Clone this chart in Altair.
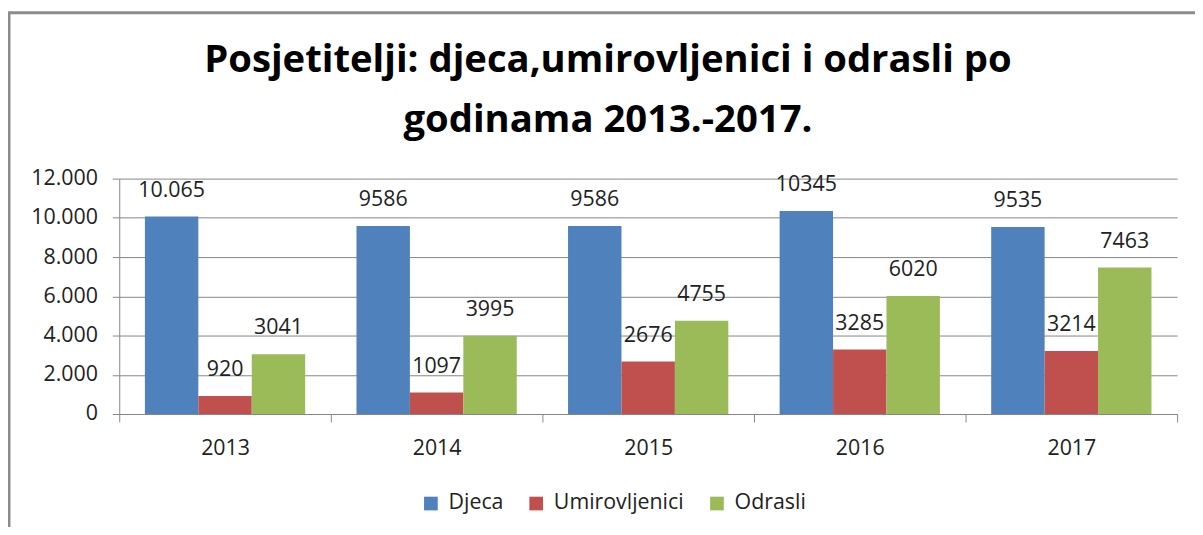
import altair as alt
import pandas as pd

years = ["2013", "2014", "2015", "2016", "2017"]
series = ["Djeca", "Umirovljenici", "Odrasli"]
djeca = [10065, 9586, 9586, 10345, 9535]
umirovljenici = [920, 1097, 2676, 3285, 3214]
odrasli = [3041, 3995, 4755, 6020, 7463]
djeca_lbl = ["10.065", "9586", "9586", "10345", "9535"]
umirovljenici_lbl = ["920", "1097", "2676", "3285", "3214"]
odrasli_lbl = ["3041", "3995", "4755", "6020", "7463"]
colors = ["#4F81BD", "#C0504D", "#9BBB59"]
title_line1 = "Posjetitelji: djeca,umirovljenici i odrasli po"
title_line2 = "godinama 2013.-2017."

rows = []
for s, vals, lbls in zip(series, [djeca, umirovljenici, odrasli], [djeca_lbl, umirovljenici_lbl, odrasli_lbl]):
    for y, v, l in zip(years, vals, lbls):
        rows.append({"year": y, "series": s, "value": v, "label": l})
df = pd.DataFrame(rows)
one = pd.DataFrame({"t": [title_line1], "u": [title_line2]})

FONT = "Open Sans"
TXT = "#222222"
GRID = "#868686"
FS = 21.5
TFS = 38.5

x = alt.X("year:N", sort=years,
          scale=alt.Scale(paddingInner=0, paddingOuter=0),
          axis=alt.Axis(title=None, labelAngle=0, tickBand="extent", tickSize=8,
                        domainColor=GRID, tickColor=GRID, labelFontSize=FS,
                        labelFont=FONT, labelColor=TXT, labelPadding=16, grid=False))
xo = alt.XOffset("series:N", sort=series,
                 scale=alt.Scale(paddingInner=0, paddingOuter=0.48))
y = alt.Y("value:Q",
          scale=alt.Scale(domain=[0, 12000], nice=False),
          axis=alt.Axis(title=None, values=list(range(0, 12001, 2000)), tickSize=7,
                        domainColor=GRID, tickColor=GRID, gridColor=GRID, grid=True,
                        labelFontSize=FS, labelFont=FONT, labelColor=TXT, labelPadding=15,
                        labelExpr="replace(format(datum.value, ','), ',', '.')"))
color = alt.Color("series:N", sort=series,
                  scale=alt.Scale(domain=series, range=colors),
                  legend=alt.Legend(title=None, orient="none", direction="horizontal",
                                    legendX=303, legendY=316, symbolType="square",
                                    symbolSize=190, symbolStrokeWidth=0,
                                    labelFont=FONT, labelFontSize=FS, labelColor=TXT,
                                    columnPadding=22, labelOffset=7, padding=0))

bars = alt.Chart(df).mark_bar(strokeWidth=0).encode(x=x, xOffset=xo, y=y, color=color)
labels = alt.Chart(df).mark_text(baseline="bottom", dy=-15, font=FONT, fontSize=FS, color=TXT).encode(
    x=x, xOffset=xo, y=y, text="label:N")
frame = alt.Chart(one).mark_rect(fill=None, stroke="#8c8c8c", strokeWidth=3).encode(
    x=alt.value(-111), x2=alt.value(1200), y=alt.value(-167), y2=alt.value(400))
t1 = alt.Chart(one).mark_text(font=FONT, fontSize=TFS, fontWeight="bold", color="#000000",
                              align="center", baseline="alphabetic").encode(
    x=alt.value(492), y=alt.value(-107), text="t:N")
t2 = alt.Chart(one).mark_text(font=FONT, fontSize=TFS, fontWeight="bold", color="#000000",
                              align="center", baseline="alphabetic").encode(
    x=alt.value(492), y=alt.value(-47), text="u:N")

chart = alt.layer(frame, bars, labels, t1, t2).properties(
    width=1065, height=237,
    autosize=alt.AutoSizeParams(type="none"),
    padding={"left": 112, "top": 170, "right": 18, "bottom": 112},
).configure_view(stroke=None)

chart.save("out.html", embed_options={"renderer": "svg", "actions": False})
